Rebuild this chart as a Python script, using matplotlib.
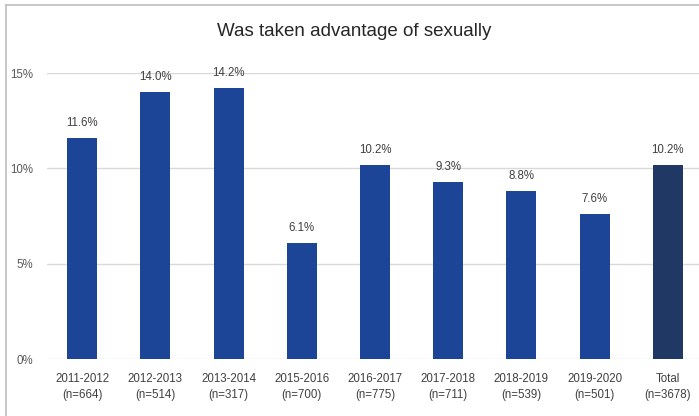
import matplotlib
matplotlib.use('Agg')
import matplotlib.pyplot as plt
from matplotlib.lines import Line2D

plt.rcParams['font.family'] = ['Liberation Sans', 'DejaVu Sans']

categories = ['2011-2012\n(n=664)', '2012-2013\n(n=514)', '2013-2014\n(n=317)',
              '2015-2016\n(n=700)', '2016-2017\n(n=775)', '2017-2018\n(n=711)',
              '2018-2019\n(n=539)', '2019-2020\n(n=501)', 'Total\n(n=3678)']
values = [11.6, 14.0, 14.2, 6.1, 10.2, 9.3, 8.8, 7.6, 10.2]
yticks = [0, 5, 10, 15]

bar_color = '#1c4597'
total_color = '#203864'
colors = [bar_color] * (len(values) - 1) + [total_color]

fig = plt.figure(figsize=(6.99, 4.16), dpi=100)
ax = fig.add_axes([47/699, 57/416, 656/699, 286/416])

x = range(len(values))
ax.bar(x, values, width=0.41, color=colors, zorder=3)
for i, v in enumerate(values):
    ax.text(i, v + 0.78, f'{v:.1f}%', ha='center', va='center', fontsize=8.3, color='#404040')

ax.set_xlim(-0.48, len(values) - 0.52)
ax.set_ylim(0, 15)
ax.set_yticks(yticks)
ax.set_yticklabels([f'{t}%' for t in yticks], fontsize=8.3, color='#595959')
ax.set_xticks(list(x))
ax.set_xticklabels(categories, fontsize=8.3, color='#404040', linespacing=1.45)
ax.tick_params(length=0, pad=10)
ax.tick_params(axis='y', pad=10)
ax.grid(axis='y', color='#d9d9d9', linewidth=1, zorder=0)
for s in ax.spines.values():
    s.set_visible(False)

fig.text(354/699, 1 - 31/416, 'Was taken advantage of sexually', ha='center', va='center',
         fontsize=13.5, color='#262626')

# outer chart border (cut off at right and bottom)
fig.add_artist(Line2D([6/699, 6/699], [0, 1 - 5/416], color='#bfbfbf', linewidth=1.2))
fig.add_artist(Line2D([6/699, 1], [1 - 5/416, 1 - 5/416], color='#bfbfbf', linewidth=1.2))

fig.savefig('out.png', dpi=100)
